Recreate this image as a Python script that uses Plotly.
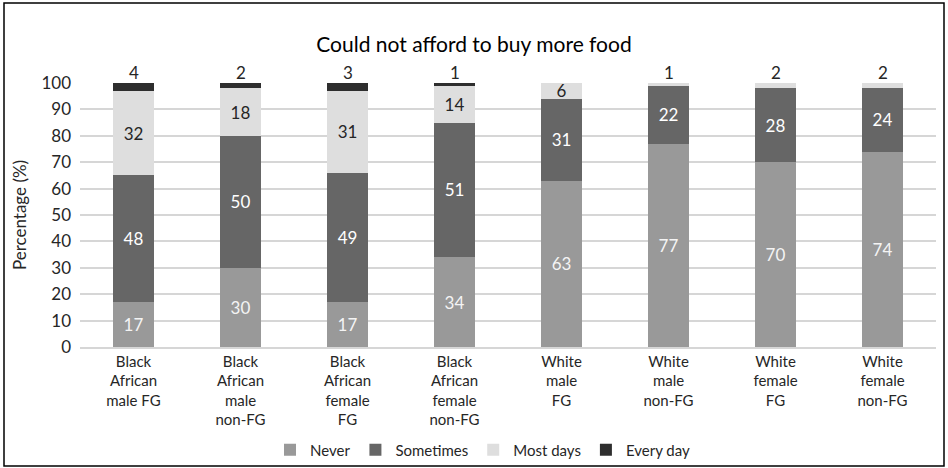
import plotly.graph_objects as go

categories = ["Black<br>African<br>male FG", "Black<br>African<br>male<br>non-FG",
              "Black<br>African<br>female<br>FG", "Black<br>African<br>female<br>non-FG",
              "White<br>male<br>FG", "White<br>male<br>non-FG",
              "White<br>female<br>FG", "White<br>female<br>non-FG"]
never = [17, 30, 17, 34, 63, 77, 70, 74]
sometimes = [48, 50, 49, 51, 31, 22, 28, 24]
most_days = [32, 18, 31, 14, 6, 1, 2, 2]
every_day = [4, 2, 3, 1, 0, 0, 0, 0]
y_ticks = [0, 10, 20, 30, 40, 50, 60, 70, 80, 90, 100]

series = [("Never", never, "#999999", "#f4f4f4"),
          ("Sometimes", sometimes, "#666666", "#ffffff"),
          ("Most days", most_days, "#dedede", "#262626"),
          ("Every day", every_day, "#2e2e2e", "#ffffff")]

FONT = "Lato"
W, H = 948, 468
ML, MR, MT, MB = 80, 12, 83, 121
pw = W - ML - MR
ph = H - MT - MB

# determine which label goes above each bar (small topmost segment)
n = len(categories)
above = [None] * n
for i in range(n):
    for name, vals, _, _ in reversed(series):
        if vals[i] > 0:
            if vals[i] < 5:
                above[i] = (name, vals[i])
            break

fig = go.Figure()
for name, vals, col, tcol in series:
    texts = []
    for i, v in enumerate(vals):
        if v <= 0 or (above[i] is not None and above[i][0] == name):
            texts.append("")
        else:
            texts.append(str(v))
    fig.add_trace(go.Bar(
        name=name, x=categories, y=vals, marker_color=col,
        marker_line_width=0,
        text=texts, textposition="inside", insidetextanchor="middle",
        textangle=0, constraintext="none",
        textfont=dict(family=FONT, size=17, color=tcol),
        hoverinfo="skip"))

for i, a in enumerate(above):
    if a is None:
        continue
    fig.add_annotation(x=categories[i], y=100, text=str(a[1]), showarrow=False,
                       yanchor="bottom", yshift=-2,
                       font=dict(family=FONT, size=17, color="#262626"))

x0 = (4 - ML) / pw
x1 = (944 - ML) / pw
y1 = (H - MB - 3) / ph
y0 = (H - MB - 466) / ph
fig.add_shape(type="rect", xref="paper", yref="paper", x0=x0, x1=x1, y0=y0, y1=y1,
              line=dict(color="#000000", width=1.5), layer="above")

fig.update_layout(
    width=W, height=H, barmode="stack", bargap=0.61,
    margin=dict(l=ML, r=MR, t=MT, b=MB, autoexpand=False),
    paper_bgcolor="white", plot_bgcolor="white",
    font=dict(family=FONT, color="#262626"),
    title=dict(text="Could not afford to buy more food", x=0.5, xref="container",
               xanchor="center", y=1 - 45 / H, yref="container", yanchor="middle",
               font=dict(family=FONT, size=21, color="#000000")),
    legend=dict(orientation="h", x=(483 - ML) / pw, xref="paper", xanchor="center",
                y=(H - MB - 450) / ph, yref="paper", yanchor="middle",
                bgcolor="rgba(0,0,0,0)",
                font=dict(family=FONT, size=15, color="#262626"),
                traceorder="normal", itemwidth=30),
    xaxis=dict(showgrid=False, tickfont=dict(family=FONT, size=15, color="#262626"),
               ticks="", showline=False, tickangle=0, automargin=False),
    yaxis=dict(range=[0, 100], tickvals=y_ticks, showgrid=True, gridcolor="#d6d6d6",
               gridwidth=1.5, zeroline=False, ticks="", ticklabelstandoff=8,
               automargin=False,
               tickfont=dict(family=FONT, size=17, color="#262626"),
               title=dict(text="Percentage (%)", standoff=10,
                          font=dict(family=FONT, size=17, color="#262626"))),
)
fig.update_xaxes(showline=True, linecolor="#d6d6d6", linewidth=1.5)

fig.write_html("out.html")
